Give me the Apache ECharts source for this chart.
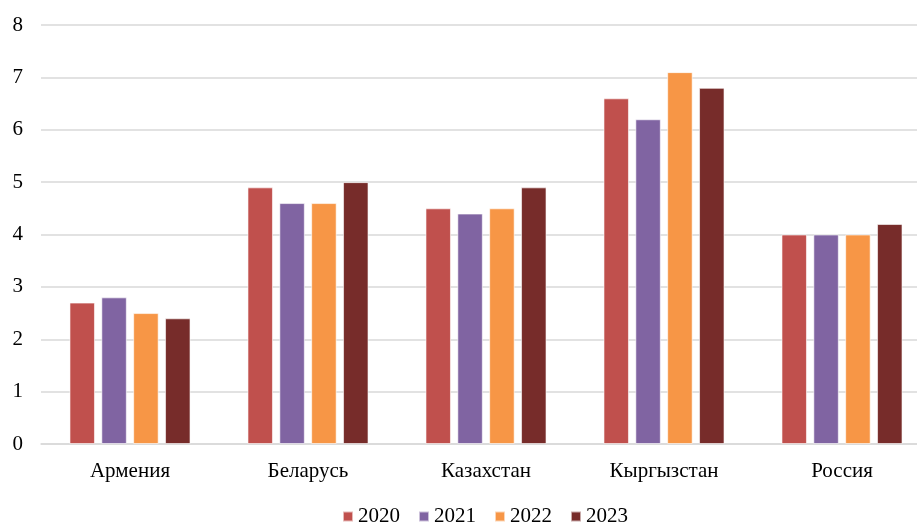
<!DOCTYPE html>
<html><head><meta charset="utf-8">
<script src="https://cdn.jsdelivr.net/npm/echarts@6/dist/echarts.min.js"></script>
<style>html,body{margin:0;padding:0;background:#fff;overflow:hidden;width:917px;height:524px}#c{width:931px;height:524px}</style>
</head><body><div id="c"></div>
<script>
const categories = ["Армения", "Беларусь", "Казахстан", "Кыргызстан", "Россия"];
const years = ["2020", "2021", "2022", "2023"];
const v2020 = [2.7, 4.9, 4.5, 6.6, 4.0];
const v2021 = [2.8, 4.6, 4.4, 6.2, 4.0];
const v2022 = [2.5, 4.6, 4.5, 7.1, 4.0];
const v2023 = [2.4, 5.0, 4.9, 6.8, 4.2];
const colors = ["#C0504D", "#8064A2", "#F79646", "#772C2A"];
const values = [v2020, v2021, v2022, v2023];
const font = "'Liberation Serif', 'Times New Roman', serif";
const chart = echarts.init(document.getElementById('c'));
chart.setOption({
  animation: false,
  textStyle: {fontFamily: font},
  grid: {left: 41, right: 0, top: 25, height: 419, containLabel: false},
  legend: {
    top: 506, left: 342, padding: 0, itemWidth: 10, itemHeight: 10, itemGap: 18,
    icon: 'rect',
    textStyle: {fontFamily: font, fontSize: 21, color: '#000'},
    data: years
  },
  xAxis: {
    type: 'category', data: categories,
    axisLine: {lineStyle: {color: '#d9d9d9', width: 1.5}},
    axisTick: {show: false},
    axisLabel: {fontFamily: font, fontSize: 21, color: '#000', margin: 17}
  },
  yAxis: {
    type: 'value', min: 0, max: 8, interval: 1,
    axisLine: {show: false}, axisTick: {show: false},
    splitLine: {lineStyle: {color: '#d9d9d9', width: 1.5}},
    axisLabel: {fontFamily: font, fontSize: 21, color: '#000', margin: 18}
  },
  series: years.map((y, i) => ({
    name: y, type: 'bar', data: values[i],
    barGap: '25%', barCategoryGap: '32%',
    itemStyle: {color: colors[i], borderColor: 'rgba(255,255,255,0.6)', borderWidth: 1}
  }))
});
</script></body></html>
